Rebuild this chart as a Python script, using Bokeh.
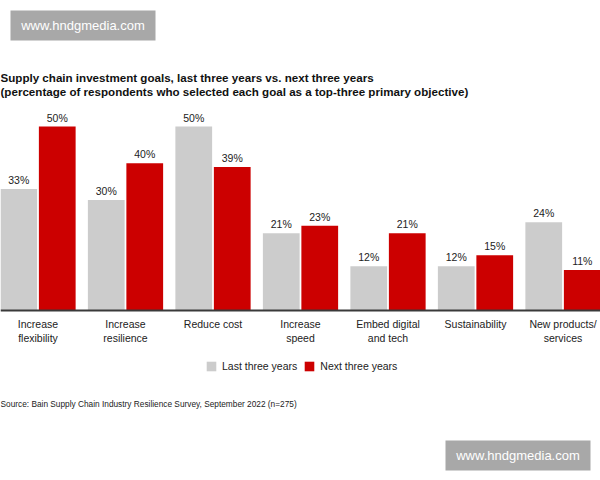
from bokeh.plotting import figure
from bokeh.models import Range1d, ColumnDataSource, Label, Legend, LegendItem, BoxAnnotation, Span
from bokeh.core.properties import value
from bokeh.embed import file_html
from bokeh.resources import INLINE

# ---- data ----
categories = ["Increase\nflexibility", "Increase\nresilience", "Reduce cost", "Increase\nspeed",
              "Embed digital\nand tech", "Sustainability", "New products/\nservices"]
last_three = [33, 30, 50, 21, 12, 12, 24]
next_three = [50, 40, 39, 23, 21, 15, 11]
series_names = ["Last three years", "Next three years"]
title_lines = ["Supply chain investment goals, last three years vs. next three years",
               "(percentage of respondents who selected each goal as a top-three primary objective)"]
source_text = "Source: Bain Supply Chain Industry Resilience Survey, September 2022 (n=275)"
watermark = "www.hndgmedia.com"

# ---- layout constants ----
W, H = 600, 480
BASE_PX = 310.0
PX_PER = 3.68
GROUP = 87.5
FONT = "Liberation Sans"
GRAY = "#cccccc"
RED = "#cc0000"

x0 = -37.5 / GROUP
x1 = x0 + W / GROUP
y_top = BASE_PX / PX_PER
y_bot = -(H - BASE_PX) / PX_PER


def px(xp):
    return x0 + xp / GROUP


def py(yp):
    return (BASE_PX - yp) / PX_PER


p = figure(width=W, height=H, x_range=Range1d(x0, x1), y_range=Range1d(y_bot, y_top),
           output_backend="svg", toolbar_location=None, min_border=0,
           x_axis_location=None, y_axis_location=None)
p.grid.visible = False
p.outline_line_color = None
p.background_fill_color = "white"
p.border_fill_color = "white"

idx = list(range(len(categories)))
off = 0.22
bw = 0.42
src = ColumnDataSource(dict(
    xl=[i - off for i in idx], xr=[i + off for i in idx], xc=idx,
    last=last_three, nxt=next_three, cat=categories,
    last_lbl=[f"{v}%" for v in last_three], next_lbl=[f"{v}%" for v in next_three],
    zero=[0] * len(idx),
))

r_last = p.vbar(x="xl", top="last", width=bw, source=src, fill_color=GRAY, line_color=None)
r_next = p.vbar(x="xr", top="nxt", width=bw, source=src, fill_color=RED, line_color=None)

p.add_layout(Span(location=0, dimension="width", line_color="#3a3a3a", line_width=2))

common = dict(text_align="center", text_font=value(FONT), text_font_size="10.5px", text_color="#222222")
p.text(x="xl", y="last", text="last_lbl", text_baseline="bottom", y_offset=-3, source=src, **common)
p.text(x="xr", y="nxt", text="next_lbl", text_baseline="bottom", y_offset=-3, source=src, **common)
p.text(x="xc", y="zero", text="cat", text_baseline="top", y_offset=7, text_line_height=1.22,
       source=src, **common)

# title
for k, t in enumerate(title_lines):
    p.add_layout(Label(x=px(0), y=py(77 + 14 * k), text=t, text_baseline="middle",
                       text_font=FONT, text_font_size="11.6px", text_font_style="bold",
                       text_color="#111111"))

# source
p.add_layout(Label(x=px(0), y=py(403), text=source_text, text_baseline="middle",
                   text_font=FONT, text_font_size="8.3px", text_color="#222222"))

# legend
legend = Legend(items=[LegendItem(label=series_names[0], renderers=[r_last]),
                       LegendItem(label=series_names[1], renderers=[r_next])],
                orientation="horizontal", location=(205, H - 372),
                glyph_width=12, glyph_height=12, label_standoff=5, spacing=6,
                padding=0, margin=0, border_line_color=None, background_fill_alpha=0,
                label_text_font=FONT, label_text_font_size="10.5px", label_text_color="#222222",
                label_height=12)
p.add_layout(legend)

# watermarks
for (bx0, by0, bx1, by1) in [(10, 10, 155, 40), (445, 440, 590, 470)]:
    p.add_layout(BoxAnnotation(left=px(bx0), right=px(bx1), top=py(by0), bottom=py(by1),
                               fill_color="#a8a8a8", fill_alpha=1.0, line_color=None))
    p.add_layout(Label(x=px((bx0 + bx1) / 2), y=py((by0 + by1) / 2), text=watermark,
                       text_align="center", text_baseline="middle", text_font=FONT,
                       text_font_size="13px", text_color="white"))

open("out.html", "w").write(file_html(p, INLINE))
